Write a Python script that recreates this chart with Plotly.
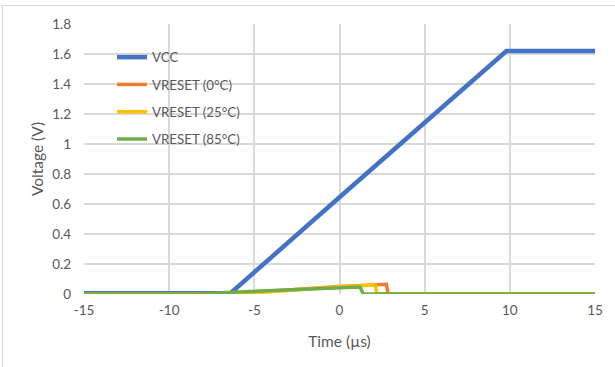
import plotly.graph_objects as go

# Time (µs) breakpoints and voltages (V)
vcc_t = [-15, -10, -6.4, 0, 5, 9.8, 12, 15]
vcc_v = [0.005, 0.005, 0.005, 0.645, 1.14, 1.62, 1.62, 1.62]

v0_t = [-15, -6.6, 0, 2.75, 2.85, 15]
v0_v = [0.0, 0.0, 0.05, 0.065, 0.0, 0.0]

v25_t = [-15, -6.0, 0, 2.1, 2.2, 15]
v25_v = [0.0, 0.0, 0.048, 0.06, 0.0, 0.0]

v85_t = [-15, -8.0, -6.3, 1.2, 1.4, 15]
v85_v = [0.0, 0.002, 0.012, 0.047, 0.0, 0.0]

names = ["VCC", "VRESET (0°C)", "VRESET (25°C)", "VRESET (85°C)"]
colors = ["#4472C4", "#ED7D31", "#FFC000", "#70AD47"]
widths = [4.5, 3.5, 3.5, 3.5]
series = [(vcc_t, vcc_v), (v0_t, v0_v), (v25_t, v25_v), (v85_t, v85_v)]

x_ticks = [-15, -10, -5, 0, 5, 10, 15]
y_ticks = [0, 0.2, 0.4, 0.6, 0.8, 1, 1.2, 1.4, 1.6, 1.8]
y_labels = ["0", "0.2", "0.4", "0.6", "0.8", "1", "1.2", "1.4", "1.6", "1.8"]

fig = go.Figure()
for i, ((t, v), n, c, w) in enumerate(zip(series, names, colors, widths)):
    fig.add_trace(go.Scatter(x=t, y=v, mode="lines", name=n,
                             line=dict(color=c, width=w), legendgroup=str(i)))

font = "Lato, Carlito, 'Open Sans', sans-serif"
txt = "#595959"
grid = "#D9D9D9"

L, R, T, B = 84, 20, 24, 73
W, H = 615, 367
pw = W - L - R
ph = H - T - B

fig.update_layout(
    width=W, height=H,
    margin=dict(l=L, r=R, t=T, b=B),
    paper_bgcolor="white", plot_bgcolor="white",
    font=dict(family=font, size=13, color=txt),
    showlegend=True,
    legend=dict(x=(112 - L) / pw, y=(294 - 42) / ph, xanchor="left", yanchor="top",
                bgcolor="rgba(0,0,0,0)", font=dict(size=13.3, color=txt),
                tracegroupgap=7, itemwidth=30),
    xaxis=dict(range=[-15, 15], tickvals=x_ticks, ticktext=[str(x) for x in x_ticks],
               showgrid=True, gridcolor=grid, gridwidth=1.5, zeroline=False,
               showline=False, ticks="", tickfont=dict(size=13.5, color=txt),
               ticklabelstandoff=6,
               title=dict(text="Time (µs)", font=dict(size=15.5, color=txt), standoff=19)),
    yaxis=dict(range=[0, 1.8], tickvals=y_ticks, ticktext=y_labels,
               showgrid=True, gridcolor=grid, gridwidth=1.5, zeroline=False,
               showline=False, ticks="", tickfont=dict(size=13.5, color=txt),
               ticklabelstandoff=12,
               title=dict(text="Voltage (V)", font=dict(size=15.5, color=txt), standoff=4)),
    shapes=[dict(type="rect", xref="paper", yref="paper",
                 x0=(2.5 - L) / pw, x1=(640 - L) / pw,
                 y0=(294 - 400) / ph, y1=(294 - 5.5) / ph,
                 line=dict(color=grid, width=1.2), fillcolor="rgba(0,0,0,0)", layer="below")],
)

fig.write_html("out.html", config={"displayModeBar": False},
               post_script="document.body.style.margin='0';document.body.style.padding='0';")
